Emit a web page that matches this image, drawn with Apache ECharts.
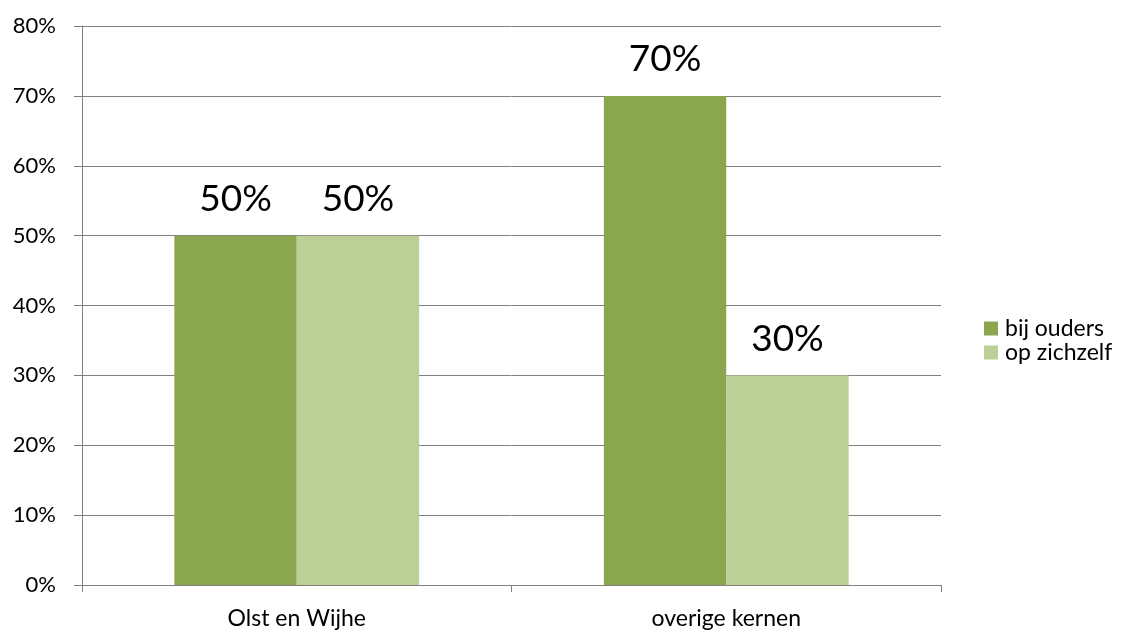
<!DOCTYPE html>
<html>
<head>
<meta charset="utf-8">
<script src="https://cdn.jsdelivr.net/npm/echarts@6/dist/echarts.min.js"></script>
<style>html,body{margin:0;padding:0;background:#fff}#c{width:1122px;height:632px}</style>
</head>
<body>
<div id="c"></div>
<script>
const categories = ["Olst en Wijhe", "overige kernen"];
const seriesNames = ["bij ouders", "op zichzelf"];
const bijOuders = [50, 70];
const opZichzelf = [50, 30];
const colors = ["#8aa64f", "#bccf97"];

const chart = echarts.init(document.getElementById('c'));
const font = "Lato, 'Open Sans', sans-serif";
const mkSeries = (name, data, color) => ({
  name, type: 'bar', data, barGap: 0, barCategoryGap: '43%',
  itemStyle: { color },
  label: { show: true, position: 'top', distance: 18, formatter: p => p.value + '%',
    fontSize: 37, color: '#000', fontFamily: font }
});
chart.setOption({
  animation: false,
  textStyle: { fontFamily: font },
  grid: { left: 82, right: 181, top: 26, bottom: 47, containLabel: false },
  legend: {
    orient: 'vertical', left: 979, top: 312, itemWidth: 14, itemHeight: 14, itemGap: 1,
    icon: 'rect', textStyle: { fontSize: 23, color: '#000', fontFamily: font, padding: [0, 0, 0, 2] },
    data: seriesNames
  },
  xAxis: {
    type: 'category', data: categories,
    axisLine: { lineStyle: { color: '#808080', width: 1 } },
    axisTick: { show: true, length: 7, lineStyle: { color: '#808080' } },
    axisLabel: { fontSize: 23, color: '#000', margin: 22, fontFamily: font }
  },
  yAxis: {
    type: 'value', min: 0, max: 80, interval: 10,
    axisLine: { show: true, lineStyle: { color: '#808080', width: 1 } },
    axisTick: { show: true, length: 8, lineStyle: { color: '#808080' } },
    splitLine: { lineStyle: { color: '#808080', width: 1 } },
    axisLabel: { fontSize: 22, color: '#000', margin: 26, formatter: '{value}%', fontFamily: font }
  },
  series: [
    mkSeries(seriesNames[0], bijOuders, colors[0]),
    mkSeries(seriesNames[1], opZichzelf, colors[1])
  ]
});
</script>
</body>
</html>
